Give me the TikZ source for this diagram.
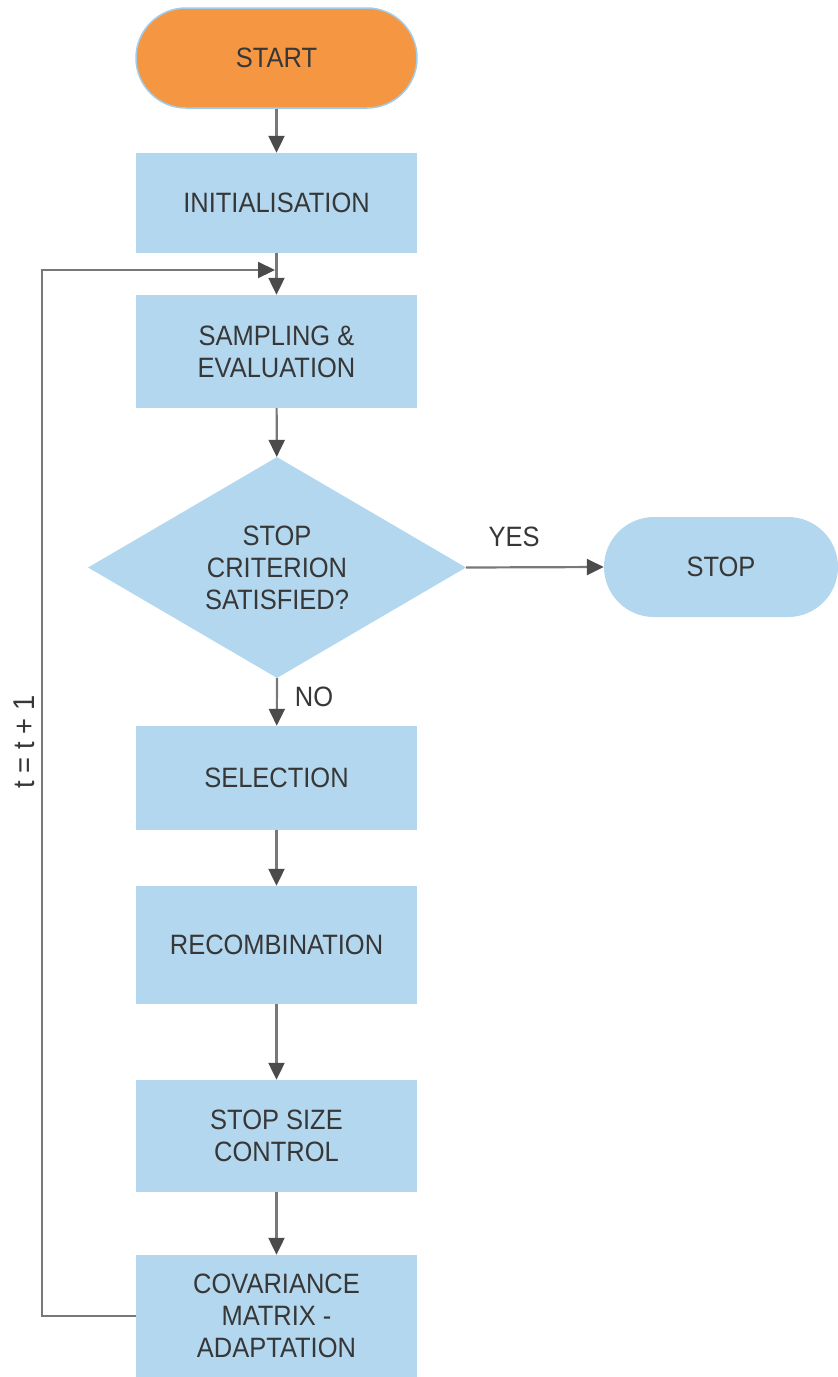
\documentclass[tikz,border=0pt]{standalone}
\usepackage{fontspec}
\newfontfamily\lbl[FakeStretch=0.91]{Liberation Sans}
\usetikzlibrary{arrows.meta,shapes.geometric}
\definecolor{boxblue}{RGB}{179,215,238}
\definecolor{startorange}{RGB}{245,151,66}
\definecolor{startedge}{RGB}{160,205,235}
\definecolor{txtgray}{RGB}{55,55,55}
\definecolor{linegray}{RGB}{120,120,120}
\definecolor{headgray}{RGB}{75,75,75}
\begin{document}
\begin{tikzpicture}[x=1pt,y=-1pt,
  every node/.style={font=\lbl\fontsize{28}{32}\selectfont, text=txtgray, align=center},
  procbox/.style={rectangle, fill=boxblue, minimum width=281, minimum height=#1, inner sep=0},
  procbox/.default=100,
  terminal/.style={rectangle, rounded corners=50, minimum height=100, inner sep=0},
  decision/.style={diamond, fill=boxblue, minimum width=378, minimum height=221, inner sep=0, aspect=1.71},
  flow/.style={draw=linegray, line width=2.2, -{Triangle[length=17,width=16,color=headgray]}},
  plain/.style={draw=linegray, line width=2.2}
]
\useasboundingbox (0,0) rectangle (838,1377);

\node[terminal, fill=startorange, draw=startedge, line width=1.5, minimum width=281] (start) at (276.5,58) {START};
\node[procbox] (init) at (276.5,203) {INITIALISATION};
\node[procbox=113] (samp) at (276.5,351.5) {SAMPLING \&\\EVALUATION};
\node[decision] (crit) at (277,567.5) {STOP\\CRITERION\\SATISFIED?};
\node[terminal, fill=boxblue, minimum width=234] (stop) at (721,567) {STOP};
\node[procbox=104] (sel) at (276.5,778) {SELECTION};
\node[procbox=118] (rec) at (276.5,945) {RECOMBINATION};
\node[procbox=112] (ssc) at (276.5,1136) {STOP SIZE\\CONTROL};
\node[procbox=122] (cov) at (276.5,1316) {COVARIANCE\\MATRIX -\\ADAPTATION};

\draw[flow] (start) -- (init);
\draw[flow] (init) -- (samp);
\draw[flow] (samp) -- (crit);
\draw[flow] (crit.south) -- (sel);
\draw[flow] (crit.east) -- (stop.west);
\draw[flow] (sel) -- (rec);
\draw[flow] (rec) -- (ssc);
\draw[flow] (ssc) -- (cov);

% feedback loop back to the sampling step
\coordinate (loopend) at (275,270);
\coordinate (loopcorner) at (42,270);
\draw[flow] (cov.west) -| (loopcorner) -- (loopend);

\node[anchor=center] (yes) at (514,537) {YES};
\node[anchor=center] (no) at (314,697) {NO};
\node[rotate=90, font=\lbl\fontsize{30}{34}\selectfont] (tinc) at (24,742) {t = t + 1};
\end{tikzpicture}
\end{document}
